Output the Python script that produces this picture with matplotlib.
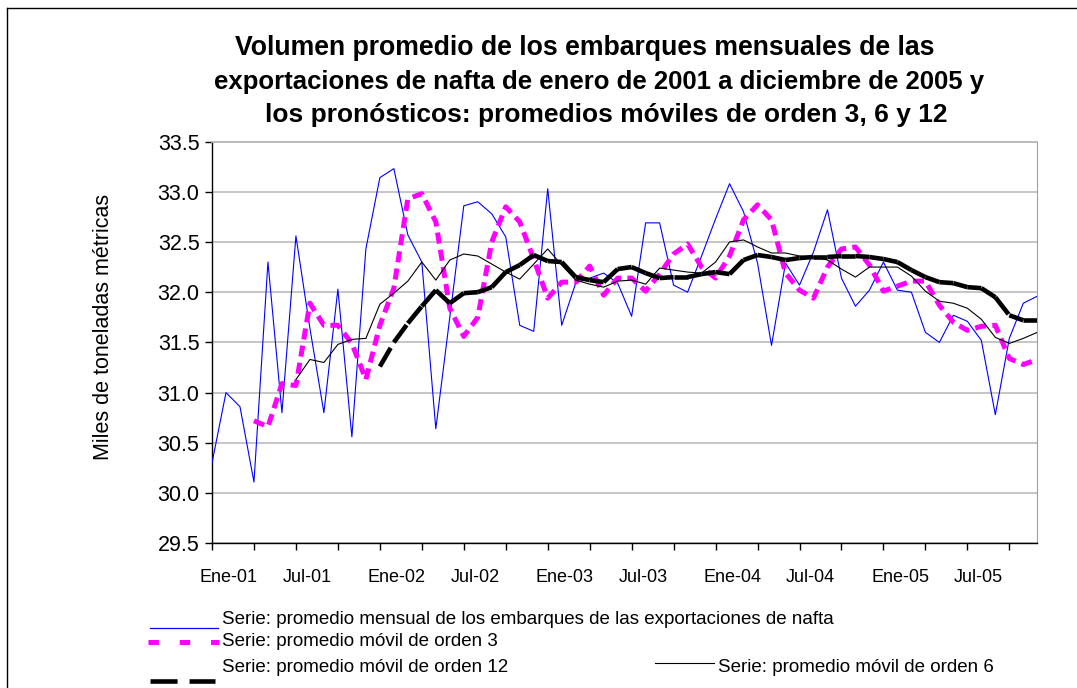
import numpy as np
import matplotlib
matplotlib.use('Agg')
import matplotlib.pyplot as plt
import matplotlib.transforms as mtransforms
from matplotlib.collections import LineCollection
from matplotlib.lines import Line2D

plt.rcParams['font.family'] = ['Liberation Sans', 'DejaVu Sans']
plt.rcParams['lines.scale_dashes'] = False

# embarques mensuales ene-2001 .. dic-2005 (miles de toneladas metricas)
mensual = [30.30, 31.00, 30.86, 30.11, 32.30, 30.80, 32.56, 31.64, 30.80, 32.03,
           30.56, 32.43, 33.14, 33.23, 32.57, 32.30, 30.64, 31.75, 32.86, 32.90,
           32.78, 32.55, 31.67, 31.61, 33.03, 31.67, 32.09, 32.14, 32.19, 32.09,
           31.76, 32.69, 32.69, 32.07, 32.00, 32.36, 32.73, 33.08, 32.80, 32.29,
           31.47, 32.29, 32.07, 32.40, 32.82, 32.14, 31.86, 32.02, 32.30, 32.02,
           32.00, 31.60, 31.50, 31.77, 31.71, 31.52, 30.78, 31.54, 31.89, 31.96]

# pronosticos: promedio movil de orden 3 (desde abr-2001)
movil3 = [30.72, 30.66, 31.09, 31.07, 31.89, 31.67, 31.67, 31.49, 31.13, 31.67,
          32.04, 32.93, 32.98, 32.70, 31.84, 31.56, 31.75, 32.50, 32.85, 32.70,
          32.33, 31.94, 32.10, 32.10, 32.26, 31.97, 32.14, 32.14, 32.01, 32.18,
          32.38, 32.48, 32.25, 32.14, 32.36, 32.72, 32.87, 32.72, 32.19, 32.02,
          31.94, 32.25, 32.43, 32.45, 32.27, 32.01, 32.06, 32.11, 32.11, 31.87,
          31.70, 31.62, 31.66, 31.67, 31.34, 31.28, 31.33]

# orden 6 (desde jul-2001)
movil6 = [31.13, 31.33, 31.30, 31.48, 31.53, 31.54, 31.88, 31.99, 32.11, 32.30,
          32.12, 32.32, 32.38, 32.36, 32.28, 32.20, 32.13, 32.28, 32.43, 32.27,
          32.12, 32.08, 32.05, 32.11, 32.12, 32.08, 32.24, 32.22, 32.20, 32.19,
          32.30, 32.50, 32.52, 32.45, 32.39, 32.39, 32.36, 32.35, 32.32, 32.23,
          32.15, 32.25, 32.25, 32.25, 32.16, 32.01, 31.91, 31.89, 31.84, 31.73,
          31.55, 31.49, 31.54, 31.60]

# orden 12 (desde ene-2002)
movil12 = [31.26, 31.50, 31.69, 31.86, 32.02, 31.89, 31.99, 32.00, 32.05, 32.20,
           32.27, 32.37, 32.31, 32.30, 32.15, 32.12, 32.10, 32.23, 32.25, 32.19,
           32.14, 32.15, 32.15, 32.18, 32.20, 32.18, 32.32, 32.37, 32.35, 32.32,
           32.34, 32.35, 32.35, 32.36, 32.36, 32.35, 32.33, 32.30, 32.22, 32.15,
           32.10, 32.09, 32.05, 32.04, 31.95, 31.77, 31.72, 31.72]

etiquetas = ['Ene-01', 'Jul-01', 'Ene-02', 'Jul-02', 'Ene-03',
             'Jul-03', 'Ene-04', 'Jul-04', 'Ene-05', 'Jul-05']

W, H = 1077, 688
fig = plt.figure(figsize=(W / 100, H / 100), dpi=100)


def fx(px):
    return px / W


def fy(py):
    return 1 - py / H


ax = fig.add_axes([fx(212), fy(543.3), (1037.3 - 212) / W, (543.3 - 141.5) / H])

x = np.arange(len(mensual))
ax.plot(x, mensual, color='#0000ff', lw=0.8, zorder=3)

x3 = np.arange(len(mensual) - len(movil3), len(mensual))
ax.plot(x3, movil3, color='#ff00ff', lw=3.6, dashes=(8, 4.5),
        dash_capstyle='butt', zorder=4)

x6 = np.arange(len(mensual) - len(movil6), len(mensual))
ax.plot(x6, movil6, color='black', lw=0.8, zorder=5)

# el trazo discontinuo grueso se reinicia en cada tramo
x12 = np.arange(len(mensual) - len(movil12), len(mensual))
pts = np.column_stack([x12, movil12])
tramos = np.stack([pts[:-1], pts[1:]], axis=1)
lc = LineCollection(tramos, colors='black', linewidths=3.3,
                    linestyles=[(0, (15.5, 6.5))], capstyle='butt', zorder=6)
ax.add_collection(lc)

ax.set_xlim(0, 59)
ax.set_ylim(29.5, 33.5)
yt = np.arange(29.5, 33.51, 0.5)
ax.set_yticks(yt)
ax.set_yticklabels(['%.1f' % v for v in yt])
ax.yaxis.grid(True, color='#c0c0c0', lw=1.3)
ax.set_axisbelow(True)
ax.set_xticks(np.arange(0, 58, 3))
ax.set_xticklabels([])
ax.tick_params(axis='both', direction='out', length=5, width=1, color='black')
ax.tick_params(axis='y', labelsize=15.5, pad=4)
for s in ['left', 'bottom']:
    ax.spines[s].set_color('black')
    ax.spines[s].set_linewidth(1)
ax.spines['top'].set_color('#b8b8b8')
ax.spines['right'].set_color('#a0a0a0')
ax.spines['top'].set_linewidth(1.3)

trans = mtransforms.blended_transform_factory(ax.transData, ax.transAxes)
for k, lab in enumerate(etiquetas):
    off = 1.2 if lab.startswith('Ene') else 0.8
    ax.text(k * 6 + off, -0.084, lab, transform=trans, ha='center', va='center',
            fontsize=13)

fig.text(fx(104), fy(327), 'Miles de toneladas métricas', rotation=90,
         ha='center', va='center', fontsize=15.5)

titulo = [('Volumen promedio de los embarques mensuales de las', 584.5, 48, 19.2),
          ('exportaciones de nafta de enero de 2001 a diciembre de 2005 y', 599.5, 82, 18.5),
          ('los pronósticos: promedios móviles de orden 3, 6 y 12', 606, 115, 19.0)]
for txt, cx, cy, fs in titulo:
    fig.text(fx(cx), fy(cy), txt, ha='center', va='center', fontsize=fs,
             fontweight='bold')

# leyenda
tf = fig.transFigure
fig.add_artist(Line2D([fx(150), fx(218)], [fy(628)] * 2, color='#0000ff', lw=0.9, transform=tf))
fig.add_artist(Line2D([fx(148), fx(219)], [fy(642)] * 2, color='#ff00ff', lw=3.6,
                      dashes=(7.5, 15), dash_capstyle='butt', transform=tf))
fig.add_artist(Line2D([fx(150), fx(215)], [fy(681)] * 2, color='black', lw=3.3,
                      dashes=(19.5, 8.6), dash_capstyle='butt', transform=tf))
fig.add_artist(Line2D([fx(655), fx(714)], [fy(663)] * 2, color='black', lw=0.8, transform=tf))
ley = [('Serie: promedio mensual de los embarques de las exportaciones de nafta', 222, 619),
       ('Serie: promedio móvil de orden 3', 222, 641),
       ('Serie: promedio móvil de orden 12', 222, 668),
       ('Serie: promedio móvil de orden 6', 718, 667)]
for txt, lx, ly in ley:
    fig.text(fx(lx), fy(ly), txt, ha='left', va='center', fontsize=13.5)

# marco del grafico
fig.add_artist(Line2D([fx(7), fx(7)], [fy(8), 0], color='black', lw=1, transform=tf))
fig.add_artist(Line2D([fx(7), 1], [fy(8), fy(8)], color='black', lw=1, transform=tf))

fig.savefig('out.png', dpi=100)
